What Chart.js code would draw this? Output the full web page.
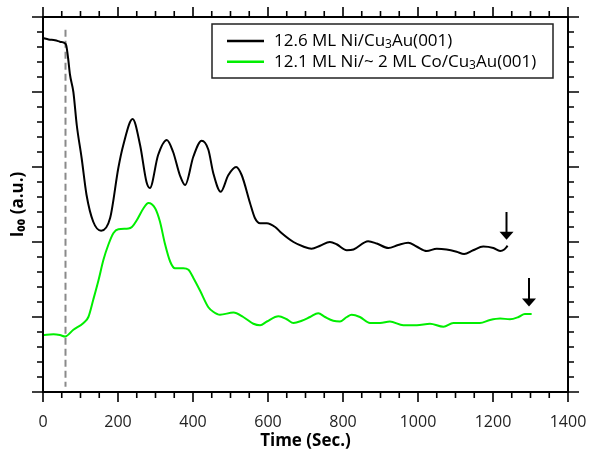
<!DOCTYPE html>
<html lang="en">
<head>
  <meta charset="UTF-8">
  <title>I00 vs time</title>
  <script src="https://cdn.jsdelivr.net/npm/chart.js"></script>
  <style>
    html, body { margin: 0; padding: 0; background: #fff; }
  </style>
</head>
<body>
<canvas id="rheedChart" width="589" height="453"></canvas>

<script>
// data (time in s, intensity in arbitrary units)
const niTime = [0, 15, 32, 45, 58, 62, 67, 72, 81, 90, 103, 116, 134, 155, 179, 201, 214, 239, 259, 276,
  285, 307, 330, 347, 365, 379, 401, 423, 441, 454, 474, 494, 515, 530, 552, 565, 579, 597, 619, 636,
  668, 694, 716, 739, 765, 783, 810, 828, 867, 890, 921, 947, 974, 996, 1023, 1050, 1076, 1103, 1123, 1147,
  1174, 1201, 1219, 1230, 1239];
const niVal = [4.72, 4.70, 4.69, 4.67, 4.65, 4.62, 4.45, 4.23, 4.00, 3.56, 3.12, 2.63, 2.27, 2.15, 2.32, 2.99, 3.29, 3.64, 3.29, 2.80,
  2.72, 3.16, 3.36, 3.20, 2.89, 2.76, 3.14, 3.35, 3.23, 2.92, 2.67, 2.89, 3.00, 2.89, 2.52, 2.32, 2.25, 2.25, 2.20, 2.12,
  2.00, 1.94, 1.91, 1.95, 2.00, 1.97, 1.89, 1.90, 2.01, 1.98, 1.92, 1.96, 1.99, 1.94, 1.88, 1.91, 1.90, 1.87, 1.84, 1.89,
  1.94, 1.92, 1.88, 1.90, 1.95];

const coTime = [0, 28, 45, 59, 81, 108, 121, 134, 148, 161, 174, 188, 201, 228, 237, 250, 268, 281, 299, 312,
  325, 339, 352, 374, 388, 401, 419, 441, 454, 472, 508, 534, 561, 579, 597, 628, 650, 668, 690, 712,
  734, 752, 774, 792, 810, 823, 845, 872, 899, 925, 961, 997, 1032, 1068, 1094, 1130, 1165, 1192, 1219, 1245,
  1268, 1285, 1303];
const coVal = [0.76, 0.77, 0.76, 0.74, 0.83, 0.92, 1.00, 1.23, 1.49, 1.76, 1.96, 2.12, 2.17, 2.18, 2.20, 2.29, 2.45, 2.52, 2.45, 2.27,
  1.98, 1.74, 1.65, 1.65, 1.63, 1.52, 1.35, 1.13, 1.07, 1.03, 1.06, 1.00, 0.91, 0.89, 0.94, 1.01, 0.97, 0.92, 0.95, 1.00,
  1.05, 1.00, 0.95, 0.94, 1.00, 1.03, 1.00, 0.92, 0.92, 0.94, 0.89, 0.89, 0.91, 0.87, 0.92, 0.92, 0.92, 0.96, 0.98, 0.97,
  1.00, 1.04, 1.04];

const seriesLabels = ['12.6 ML Ni/Cu₃Au(001)', '12.1 ML Ni/~ 2 ML Co/Cu₃Au(001)'];

// dashed marker at start of deposition
const markerTime = [60, 60];
const markerVal = [4.83, 0.07];

// end-of-growth arrows: x, shaft top, tip
const arrowTime = [1236, 1296];
const arrowTop = [2.40, 1.52];
const arrowTip = [2.03, 1.14];

const xTickLabels = [0, 200, 400, 600, 800, 1000, 1200, 1400];

const FONT = '"Open Sans", "Noto Sans", sans-serif';
const GREEN = 'rgb(0,238,0)';

const toPoints = (xs, ys) => xs.map((t, i) => ({ x: t, y: ys[i] }));

// box + outward ticks on all four sides, and the two arrows
const frameTicks = {
  id: 'frameTicks',
  afterDatasetsDraw(chart) {
    const { ctx, chartArea: a, scales: { x, y } } = chart;
    ctx.save();
    ctx.strokeStyle = '#000';
    ctx.lineWidth = 1.6;
    ctx.beginPath();
    for (let t = x.min; t <= x.max; t += 50) {
      const px = x.getPixelForValue(t);
      const len = t % 200 === 0 ? 10 : 6;
      ctx.moveTo(px, a.bottom); ctx.lineTo(px, a.bottom + len);
      ctx.moveTo(px, a.top); ctx.lineTo(px, a.top - len);
    }
    for (let i = 0; i <= 25; i++) {
      const py = y.getPixelForValue(i * 0.2);
      const len = i % 5 === 0 ? 11 : 6;
      ctx.moveTo(a.left, py); ctx.lineTo(a.left - len, py);
      ctx.moveTo(a.right, py); ctx.lineTo(a.right + len, py);
    }
    ctx.stroke();
    ctx.lineWidth = 2;
    ctx.strokeRect(a.left, a.top, a.right - a.left, a.bottom - a.top);

    ctx.fillStyle = '#000';
    arrowTime.forEach((t, i) => {
      const px = x.getPixelForValue(t);
      const top = y.getPixelForValue(arrowTop[i]);
      const tip = y.getPixelForValue(arrowTip[i]);
      ctx.beginPath();
      ctx.lineWidth = 2;
      ctx.moveTo(px, top); ctx.lineTo(px, tip - 6);
      ctx.stroke();
      ctx.beginPath();
      ctx.moveTo(px - 7, tip - 8);
      ctx.lineTo(px + 7, tip - 8);
      ctx.lineTo(px, tip);
      ctx.closePath();
      ctx.fill();
    });
    ctx.restore();
  }
};

// text with unicode subscript digits drawn small and lowered
function drawRich(ctx, text, x, y, size) {
  const subs = '₀₁₂₃₄₅₆₇₈₉';
  let run = '';
  const flush = () => {
    if (!run) return;
    ctx.font = size + 'px ' + FONT;
    ctx.fillText(run, x, y);
    x += ctx.measureText(run).width;
    run = '';
  };
  for (const ch of text) {
    const k = subs.indexOf(ch);
    if (k < 0) { run += ch; continue; }
    flush();
    ctx.font = Math.round(size * 0.7) + 'px ' + FONT;
    ctx.fillText(String(k), x, y + 4);
    x += ctx.measureText(String(k)).width;
  }
  flush();
}

const boxLegend = {
  id: 'boxLegend',
  afterDraw(chart) {
    const { ctx, chartArea: a } = chart;
    const right = a.right - 15, top = a.top + 7, w = 341, h = 54;
    const left = right - w;
    ctx.save();
    ctx.fillStyle = '#fff';
    ctx.fillRect(left, top, w, h);
    ctx.strokeStyle = '#222';
    ctx.lineWidth = 1.5;
    ctx.strokeRect(left, top, w, h);
    chart.data.datasets.slice(0, 2).forEach((ds, i) => {
      const ry = top + 17 + i * 20.7;
      ctx.strokeStyle = ds.borderColor;
      ctx.lineWidth = 2.5;
      ctx.beginPath();
      ctx.moveTo(left + 15, ry); ctx.lineTo(left + 52, ry);
      ctx.stroke();
      ctx.fillStyle = '#000';
      ctx.textBaseline = 'middle';
      drawRich(ctx, ds.label, left + 62, ry, 17);
    });
    ctx.restore();
  }
};

const ctx = document.getElementById('rheedChart').getContext('2d');
new Chart(ctx, {
  type: 'line',
  data: {
    datasets: [
      { label: seriesLabels[0], data: toPoints(niTime, niVal), borderColor: '#000', borderWidth: 2,
        pointRadius: 0, cubicInterpolationMode: 'monotone' },
      { label: seriesLabels[1], data: toPoints(coTime, coVal), borderColor: GREEN, borderWidth: 2,
        pointRadius: 0, cubicInterpolationMode: 'monotone' },
      { label: 'start', data: toPoints(markerTime, markerVal), borderColor: '#8a8a8a', borderWidth: 2,
        borderDash: [7, 4], pointRadius: 0 }
    ]
  },
  options: {
    responsive: false,
    animation: false,
    devicePixelRatio: 1,
    layout: { padding: { top: 17, right: 21, left: 0, bottom: 0 } },
    plugins: { legend: { display: false }, tooltip: { enabled: false } },
    scales: {
      x: {
        type: 'linear', min: 0, max: 1400,
        afterBuildTicks: s => { s.ticks = xTickLabels.map(v => ({ value: v })); },
        afterFit: s => { s.height = 61; },
        // tick marks are drawn by the plugin; tickLength only pushes the labels down
        grid: { display: false, drawTicks: true, tickLength: 19 },
        border: { display: false },
        ticks: { color: '#222', font: { family: FONT, size: 16 }, padding: 2, maxRotation: 0,
                 autoSkip: false, callback: v => String(v) },
        title: { display: true, text: 'Time (Sec.)', color: '#000',
                 font: { family: FONT, size: 17, weight: 'bold' }, padding: { top: 0, bottom: 2 } }
      },
      y: {
        min: 0, max: 5,
        afterFit: s => { s.width = 43; },
        grid: { display: false, drawTicks: false, tickLength: 0 },
        border: { display: false },
        ticks: { display: false },
        title: { display: true, text: 'I₀₀ (a.u.)', color: '#000',
                 font: { family: FONT, size: 17, weight: 'bold' }, padding: { top: 8, bottom: 0 } }
      }
    }
  },
  plugins: [frameTicks, boxLegend]
});
</script>
</body>
</html>
